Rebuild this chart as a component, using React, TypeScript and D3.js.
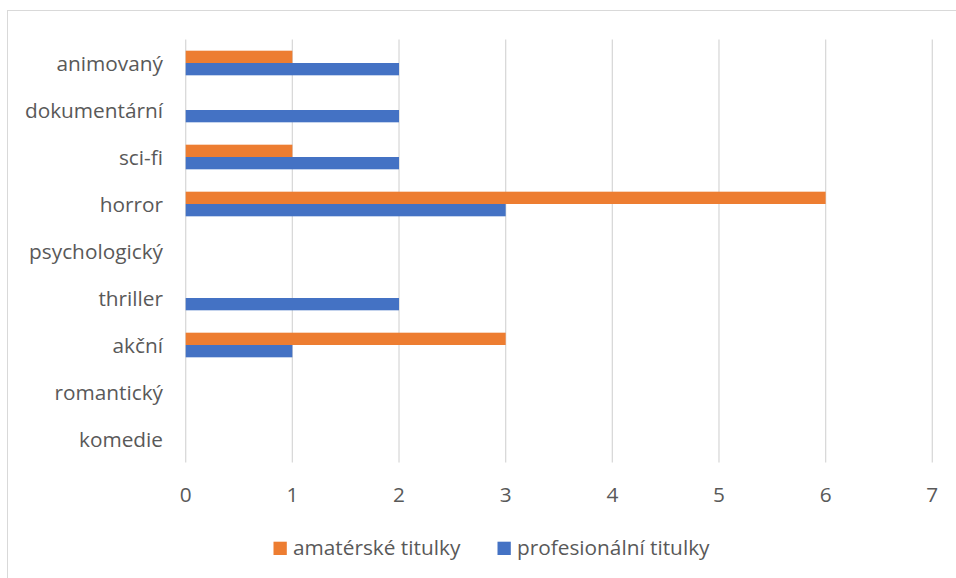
import React from "react";
import * as d3 from "d3";

const categories = [
  "animovaný",
  "dokumentární",
  "sci-fi",
  "horror",
  "psychologický",
  "thriller",
  "akční",
  "romantický",
  "komedie",
];
const amaterske = [1, 0, 1, 6, 0, 0, 3, 0, 0];
const profesionalni = [2, 2, 2, 3, 0, 2, 1, 0, 0];
const seriesNames = ["amatérské titulky", "profesionální titulky"];
const seriesColors = ["#ED7D31", "#4472C4"];
const xTicks = [0, 1, 2, 3, 4, 5, 6, 7];

const W = 956;
const H = 578;
const font = "'Open Sans', sans-serif";
const textColor = "#595959";
const fs = 20.8;

export default function App() {
  const x = d3.scaleLinear().domain([0, 7]).range([185.7, 932.3]);
  const y = d3.scaleBand<string>().domain(categories).range([39.5, 462.5]).paddingInner(0.476).paddingOuter(0.238);
  const inner = d3.scaleBand<number>().domain([0, 1]).range([0, y.bandwidth()]);
  const series = [amaterske, profesionalni];

  return (
    <svg width={W} height={H} style={{ position: "absolute", left: 0, top: 0 }}>
      <rect x={0} y={0} width={W} height={H} fill="#fff" />
      <rect x={7.5} y={10.5} width={W + 20} height={H + 20} fill="none" stroke="#d9d9d9" strokeWidth={1} />
      {xTicks.map((t) => (
        <g key={t}>
          <line x1={x(t)} x2={x(t)} y1={39.5} y2={462.5} stroke="#d9d9d9" strokeWidth={1.3} />
          <text x={x(t)} y={502} textAnchor="middle" fontFamily={font} fontSize={fs} fill={textColor}>
            {t}
          </text>
        </g>
      ))}
      {categories.map((c, i) => (
        <g key={c}>
          <text
            x={163}
            y={(y(c) as number) + y.bandwidth() / 2 + 7.5}
            textAnchor="end"
            fontFamily={font}
            fontSize={fs}
            fill={textColor}
          >
            {c}
          </text>
          {series.map((s, si) =>
            s[i] > 0 ? (
              <rect
                key={si}
                x={x(0)}
                y={(y(c) as number) + (inner(si) as number)}
                width={x(s[i]) - x(0)}
                height={inner.bandwidth()}
                fill={seriesColors[si]}
              />
            ) : null
          )}
        </g>
      ))}
      {seriesNames.map((n, i) => {
        const lx = [273.5, 497.5][i];
        return (
          <g key={n}>
            <rect x={lx} y={541.7} width={13.3} height={13.3} fill={seriesColors[i]} />
            <text x={lx + 19.5} y={555} fontFamily={font} fontSize={fs} fill={textColor}>
              {n}
            </text>
          </g>
        );
      })}
    </svg>
  );
}
